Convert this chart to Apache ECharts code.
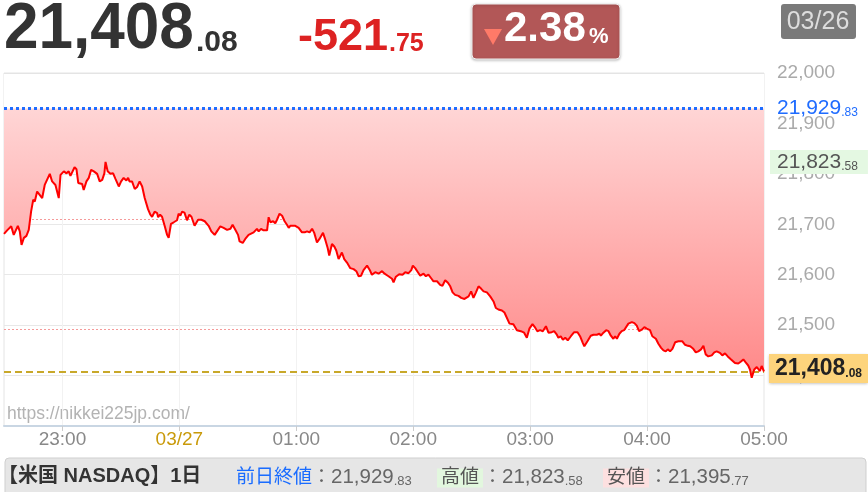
<!DOCTYPE html>
<html><head><meta charset="utf-8">
<script src="https://cdn.jsdelivr.net/npm/echarts@6/dist/echarts.min.js"></script>
<style>html,body{margin:0;padding:0;background:#fff}#c{width:868px;height:492px}</style>
</head><body><div id="c"></div>
<script>
// ---- data ----
const prevClose = 21929.83;
const lastValue = 21408.08;
const highValue = 21823.58;
const lowValue = 21395.77;
const changeValue = -521.75;
const changePct = 2.38;
const pctLines = [21710.53, 21491.23];   // -1% / -2% of previous close
const dateLabel = '03/26';
const yMin = 21300, yMax = 22000, yStep = 100;
const xTickMinutes = [30, 90, 150, 210, 270, 330, 390];
const xTickLabels = ['23:00', '03/27', '01:00', '02:00', '03:00', '04:00', '05:00'];
// minutes since 22:30
const minutes = [0,1.6,2.5,3.7,5.0,5.9,7.1,8.1,9.0,10.2,11.5,12.7,13.9,15.0,15.8,17.0,18.4,19.6,20.9,21.8,23.5,24.7,25.5,26.4,28.1,29.0,30.7,32.1,33.2,34.1,35.0,36.2,37.2,38.1,40.1,40.9,42.3,43.5,44.7,46.1,47.8,49.1,50.4,51.5,52.1,53.2,54.6,56.0,57.2,58.1,58.9,60.1,61.4,62.8,63.7,64.4,65.7,67.1,68.3,69.6,70.9,72.2,73.9,75.1,76.0,77.3,78.6,79.1,80.1,81.1,82.5,83.7,84.5,85.7,87.1,88.8,89.6,90.5,91.4,92.6,93.9,95.1,96.2,97.8,99.6,101.3,103.0,105.0,106.4,108.1,109.8,111.0,112.7,114.5,116.2,117.3,118.7,120.1,120.9,122.5,123.8,125.5,128.1,129.8,130.7,131.9,133.2,135.0,135.8,136.7,138.1,139.2,140.1,141.4,142.7,144.0,145.2,146.1,146.9,149.5,151.2,152.9,154.3,155.5,156.8,158.1,159.2,160.6,161.9,162.8,163.7,164.9,166.1,166.9,168.3,169.5,170.5,171.7,173.4,174.6,176.0,177.7,179.4,180.8,182.0,183.2,184.5,186.3,187.6,188.8,190.5,192.2,194.0,195.3,197.3,199.1,199.9,201.1,202.8,204.5,205.9,207.6,209.0,209.8,211.0,212.4,213.6,215.3,216.5,217.8,219.2,220.4,222.2,223.8,225.0,226.4,227.8,229.0,230.2,231.5,233.2,234.6,236.3,237.0,238.4,239.7,240.9,242.2,243.5,244.9,246.1,247.8,249.5,251.2,252.4,253.7,255.5,256.8,257.7,259.4,261.4,263.2,265.2,266.9,268.3,269.6,271.2,272.6,273.7,275.1,276.5,278.1,279.4,281.1,282.3,283.7,284.5,285.7,286.8,288.0,289.3,290.9,292.6,294.3,295.6,297.0,297.8,299.4,301.1,302.5,304.2,305.5,306.3,307.6,309.0,310.2,311.4,312.7,313.6,314.5,315.8,317.0,318.2,320.4,322.2,323.5,324.7,325.9,327.3,328.6,329.8,331.5,332.7,334.5,335.8,337.2,338.4,339.6,340.6,341.8,343.0,344.4,346.1,348.1,349.5,350.9,352.1,353.7,355.0,356.3,357.7,358.9,360.1,361.4,363.2,364.5,365.7,367.4,368.6,370.0,371.4,373.1,375.1,376.8,378.2,379.4,380.6,381.9,382.8,383.7,385.0,386.3,387.1,387.9,388.8,390];
const prices = [21681,21688,21686,21696,21679,21679,21697,21686,21659,21673,21677,21689,21725,21749,21745,21765,21758,21752,21778,21775,21800,21785,21788,21778,21752,21798,21805,21801,21805,21796,21795,21813,21809,21782,21780,21768,21785,21792,21808,21805,21800,21785,21788,21801,21823.58,21805,21800,21801,21790,21787,21775,21785,21792,21787,21792,21785,21785,21770,21774,21785,21775,21752,21730,21719,21715,21725,21722,21714,21719,21715,21696,21679,21673,21701,21704,21708,21721,21717,21725,21723,21708,21719,21715,21697,21709,21709,21706,21697,21686,21679,21689,21696,21693,21689,21691,21699,21689,21679,21666,21663,21671,21679,21684,21691,21686,21691,21688,21688,21714,21704,21706,21702,21709,21721,21717,21706,21699,21693,21697,21697,21693,21684,21684,21686,21684,21691,21683,21664,21671,21668,21683,21669,21653,21638,21661,21656,21648,21631,21644,21631,21624,21613,21611,21607,21597,21598,21609,21618,21610,21600,21605,21602,21607,21602,21597,21592,21585,21596,21601,21600,21605,21603,21609,21618,21613,21605,21598,21602,21597,21600,21593,21587,21587,21580,21578,21589,21584,21577,21565,21560,21558,21554,21552,21549,21557,21567,21554,21565,21577,21572,21567,21565,21557,21547,21534,21531,21529,21525,21523,21503,21502,21490,21488,21485,21475,21493,21502,21495,21488,21490,21488,21498,21485,21486,21488,21481,21475,21478,21471,21475,21470,21478,21486,21486,21478,21465,21458,21468,21479,21481,21481,21483,21479,21485,21490,21488,21479,21473,21478,21473,21483,21488,21490,21503,21506,21504,21499,21488,21491,21496,21493,21490,21478,21473,21463,21455,21450,21448,21452,21448,21453,21466,21468,21468,21461,21459,21458,21453,21446,21448,21452,21459,21442,21438,21440,21446,21448,21445,21440,21444,21438,21432,21425,21424,21428,21432,21426,21420,21412,21395.77,21412,21417,21415,21409,21419,21408.08];

// ---- helpers ----
const FONT = '"Liberation Sans", Arial, sans-serif';
const JFONT = '"Liberation Sans", "Noto Sans CJK JP", sans-serif';
function intPart(v) { return Math.trunc(Math.abs(v)).toLocaleString('en-US'); }
function decPart(v) { return '.' + Math.abs(v).toFixed(2).split('.')[1]; }
function T(x, base, text, size, color, weight, extra) {
  return Object.assign({
    type: 'text', x: x, y: base - 0.3465 * size, silent: true,
    style: { text: text, fill: color, font: (weight || 'normal') + ' ' + size + 'px ' + FONT, verticalAlign: 'middle', align: 'left' }
  }, extra || {});
}
function footerPiece(x, label, labelColor, bg, v) {
  return {
    type: 'text', x: x, y: 476, silent: true,
    style: {
      text: '{l|' + label + '}{c|：}{n|' + intPart(v) + '}{s|' + decPart(v) + '}',
      verticalAlign: 'middle', align: 'left',
      rich: {
        l: { fontSize: 19, lineHeight: 23, fontFamily: JFONT, fill: labelColor, color: labelColor, backgroundColor: bg || 'transparent', padding: bg ? [0, 4, 0, 4] : 0, verticalAlign: 'bottom' },
        c: { fontSize: 19, lineHeight: 22, fontFamily: JFONT, fill: '#666', color: '#666', verticalAlign: 'bottom' },
        n: { fontSize: 20.5, lineHeight: 23, fontFamily: FONT, fill: '#666', color: '#666', verticalAlign: 'bottom' },
        s: { fontSize: 13, lineHeight: 19, fontFamily: FONT, fill: '#666', color: '#666', verticalAlign: 'bottom' }
      }
    }
  };
}

const chart = echarts.init(document.getElementById('c'), null, { renderer: 'canvas' });

const baseData = minutes.map((m, i) => [m, prices[i]]);

const graphics = [
  // header
  T(4, 53, intPart(lastValue), 64, '#333', 'bold', { scaleX: 0.97 }),
  T(196, 53, decPart(lastValue), 30, '#333', 'bold'),
  T(298, 53, (changeValue < 0 ? '-' : '') + intPart(changeValue), 45, '#dd2222', 'bold'),
  T(389, 53, decPart(changeValue), 25, '#dd2222', 'bold'),
  { type: 'rect', silent: true, shape: { x: 472, y: 4, width: 148, height: 55, r: 4 }, style: { fill: '#b25757', stroke: '#f0f0f0', lineWidth: 1, shadowBlur: 3, shadowColor: 'rgba(0,0,0,0.25)', shadowOffsetY: 1 } },
  { type: 'polygon', silent: true, shape: { points: [[484, 29], [502, 29], [493, 45]] }, style: { fill: '#ff7a68' } },
  T(504, 44, changePct.toFixed(2), 42, '#ffffff', 'bold'),
  T(589, 45, '%', 22, '#ffffff', 'bold'),
  { type: 'rect', silent: true, shape: { x: 781, y: 4, width: 75, height: 35, r: 3 }, style: { fill: '#7a7a7a' } },
  { type: 'text', silent: true, x: 818, y: 22, style: { text: dateLabel, fill: '#dddddd', font: '25px ' + FONT, align: 'center', verticalAlign: 'middle' } },
  // watermark
  { type: 'text', silent: true, x: 7, y: 414, style: { text: 'https://nikkei225jp.com/', fill: '#b3b3b3', font: '17.5px ' + FONT, verticalAlign: 'middle' } },
  // footer
  { type: 'rect', silent: true, shape: { x: 5, y: 458, width: 861, height: 40, r: 4 }, style: { fill: '#e6e6e6', stroke: '#cfcfcf', lineWidth: 1 } },
  { type: 'text', silent: true, x: -2, y: 476, style: { text: '【米国 NASDAQ】1日', fill: '#333', font: 'bold 20px ' + JFONT, verticalAlign: 'middle' } },
  footerPiece(236, '前日終値', '#1a6cff', null, prevClose),
  footerPiece(437, '高値', '#555', '#e2f7de', highValue),
  footerPiece(603, '安値', '#555', '#fde0e0', lowValue)
];

function richLabel(v, big, small, color, weight) {
  return {
    formatter: '{a|' + intPart(v) + '}{b|' + decPart(v) + '}',
    rich: {
      a: { fontSize: big, lineHeight: big, color: color, fontWeight: weight || 'normal', fontFamily: FONT, verticalAlign: 'bottom' },
      b: { fontSize: small, lineHeight: small + 3, color: color, fontWeight: weight || 'normal', fontFamily: FONT, verticalAlign: 'bottom' }
    }
  };
}

const pctStyle = { color: '#f59a9a', width: 1, type: [2, 2], opacity: 1 };

const option = {
  animation: false,
  textStyle: { fontFamily: FONT },
  grid: { left: 4, right: 104, top: 73, bottom: 66, show: true, borderColor: '#e4e4e4', borderWidth: 1, backgroundColor: '#fff' },
  xAxis: {
    type: 'value', min: 0, max: 390,
    axisLine: { show: true, onZero: false, lineStyle: { color: '#c9d6e3', width: 2 } },
    axisTick: { show: true, customValues: xTickMinutes, length: 5, lineStyle: { color: '#cccccc' } },
    axisLabel: {
      customValues: xTickMinutes, fontSize: 19, color: '#888', margin: 4, fontFamily: FONT,
      formatter: function (v) {
        const i = xTickMinutes.indexOf(v);
        const s = i >= 0 ? xTickLabels[i] : '';
        return s.indexOf('/') > 0 ? '{d|' + s + '}' : s;
      },
      rich: { d: { color: '#c99a0a', fontSize: 19, fontFamily: FONT } }
    },
    splitLine: { show: true, lineStyle: { color: '#f2f2f2' } }
  },
  yAxis: {
    type: 'value', position: 'right', min: yMin, max: yMax, interval: yStep,
    axisLine: { show: false }, axisTick: { show: false },
    axisLabel: { color: '#aaaaaa', fontSize: 19, margin: 13, showMinLabel: false, fontFamily: FONT, formatter: v => v.toLocaleString('en-US') },
    splitLine: { show: true, lineStyle: { color: '#e8e8e8' } }
  },
  graphic: graphics,
  series: [
    {
      name: 'price', type: 'line', data: baseData, symbol: 'none', z: 6,
      lineStyle: { color: '#ff0000', width: 2 },
      markLine: {
        z: 5, silent: true, symbol: ['none', 'none'], animation: false,
        data: [
          { yAxis: prevClose, lineStyle: { color: '#1f6cff', width: 3, type: [3, 3] },
            label: Object.assign({ show: true, position: 'end', distance: 13 }, richLabel(prevClose, 21, 12, '#1f6cff')) },
          { yAxis: highValue, lineStyle: { color: 'rgba(0,0,0,0)', width: 0 },
            label: Object.assign({ show: true, position: 'end', distance: 6, backgroundColor: '#e4f8e2', padding: [2, 10, 1, 7] }, richLabel(highValue, 21, 12, '#555')) },
          { yAxis: lastValue, lineStyle: { color: '#c8a82a', width: 2, type: [7, 4] },
            label: Object.assign({ show: true, position: 'end', distance: 5, offset: [0, -3], backgroundColor: '#fdd47c', padding: [3, 6, 3, 6], shadowBlur: 3, shadowColor: 'rgba(0,0,0,0.3)', shadowOffsetY: 1 }, richLabel(lastValue, 23, 12, '#222', 'bold')) }
        ]
      }
    },
    {
      name: 'fill', type: 'line', data: baseData, symbol: 'none', z: 3,
      lineStyle: { width: 0, opacity: 0 },
      areaStyle: {
        origin: 'end', opacity: 1,
        color: new echarts.graphic.LinearGradient(0, 0, 0, 1, [
          { offset: 0, color: '#ffdcdc' },
          { offset: 0.11, color: '#ffd6d6' },
          { offset: 1, color: '#ff8989' }
        ])
      }
    },
    {
      name: 'mask', type: 'line', data: baseData, symbol: 'none', z: 4,
      lineStyle: { width: 0, opacity: 0 },
      markArea: {
        z: 4, silent: true, animation: false,
        itemStyle: { color: '#ffffff', opacity: 1 },
        data: [[{ yAxis: prevClose }, { yAxis: yMax }]]
      },
      markLine: {
        z: 4.5, silent: true, symbol: ['none', 'none'], animation: false, label: { show: false },
        lineStyle: { color: '#e4e4e4', width: 1, type: 'solid' },
        data: [{ yAxis: yMax }]
      }
    },
    {
      name: 'pct', type: 'line', data: baseData, symbol: 'none', z: 2,
      itemStyle: { color: '#f59a9a' },
      lineStyle: { opacity: 0, width: 0 },
      markLine: {
        z: 2, silent: true, symbol: ['none', 'none'], animation: false, label: { show: false },
        lineStyle: pctStyle,
        data: pctLines.map(v => ({ yAxis: v, lineStyle: pctStyle }))
      }
    }
  ]
};
chart.setOption(option);
</script>
</body></html>
